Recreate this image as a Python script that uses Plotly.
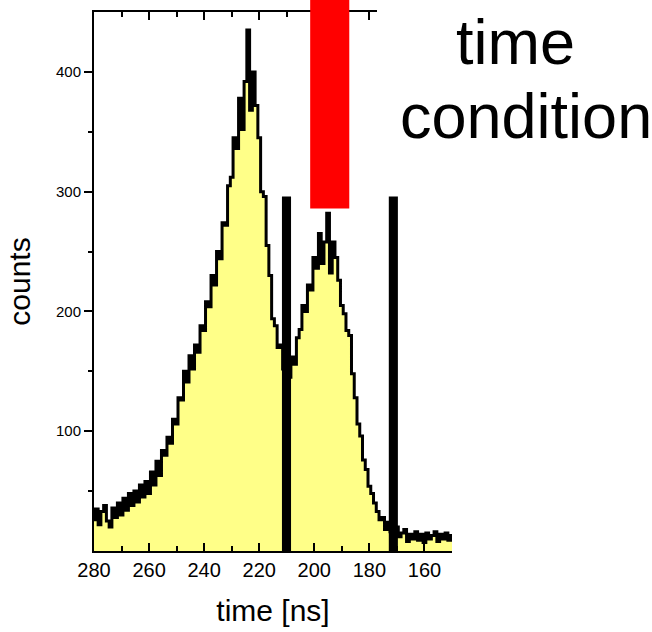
import plotly.graph_objects as go

# Time-of-flight histogram: bin centres [ns] and counts per bin
time_ns = list(range(280, 149, -1))
counts = [
    26, 35, 22, 33, 38, 25, 20, 36, 28, 40,            # 280..271
    30, 44, 34, 48, 38, 50, 41, 55, 45, 58,            # 270..261
    48, 66, 55, 75, 63, 84, 80, 95, 90, 110,           # 260..251
    106, 128, 126, 150, 141, 163, 152, 172, 166, 188,  # 250..241
    184, 208, 204, 230, 222, 250, 244, 274, 272, 305,  # 240..231
    312, 345, 336, 378, 352, 392, 435, 368, 400, 372,  # 230..221
    345, 300, 296, 255, 230, 194, 188, 170, 172, 152,  # 220..211
    158, 145, 162, 156, 178, 185, 205, 200, 222, 218,  # 210..201
    245, 236, 265, 240, 258, 282, 232, 258, 245, 226,  # 200..191
    205, 198, 184, 180, 148, 128, 106, 96, 76, 68,     # 190..181
    54, 48, 40, 33, 26, 28, 18, 24, 16, 19,            # 180..171
    20, 12, 15, 18, 8, 14, 10, 16, 9, 14,              # 170..161
    7, 15, 10, 13, 16, 8, 14, 10, 15, 9,               # 160..151
    13,                                                # 150
]

# Gate markers (ns) and their height (counts)
gate_edges = [210.1, 171.3]
gate_width = 3.3
gate_height = 296

# Selected time window (ns) and lower edge of its marker (counts)
window_ns = [201.5, 187.3]
window_floor = 286

x_range = [280, 150]
y_range = [0, 450]
x_ticks = [280, 260, 240, 220, 200, 180, 160]
y_ticks = [100, 200, 300, 400]
y_minor = [50, 150, 250, 350]

FONT = "Liberation Sans, Arial, sans-serif"

fig = go.Figure()
fig.add_trace(go.Scatter(
    x=time_ns, y=counts,
    mode="lines",
    line=dict(color="black", width=3, shape="hvh"),
    fill="tozeroy",
    fillcolor="#FFFF88",
    showlegend=False,
    hoverinfo="skip",
))

shapes = []
for g in gate_edges:
    shapes.append(dict(
        type="rect", xref="x", yref="y",
        x0=g + gate_width / 2, x1=g - gate_width / 2,
        y0=0, y1=gate_height,
        fillcolor="black", line=dict(width=0), layer="above",
    ))
shapes.append(dict(
    type="rect", xref="x", yref="paper",
    x0=window_ns[0], x1=window_ns[1],
    y0=(window_floor - y_range[0]) / (y_range[1] - y_range[0]), y1=1.1,
    fillcolor="#FF0000", line=dict(width=0), layer="above",
))
# white panel behind the label in the upper-right corner
shapes.append(dict(
    type="rect", xref="paper", yref="paper",
    x0=0.7905, x1=2.0, y0=0.721, y1=1.2,
    fillcolor="white", line=dict(width=0), layer="above",
))

annotations = [
    dict(text="time", xref="paper", yref="paper", x=1.177, y=0.945,
         xanchor="center", yanchor="middle", showarrow=False,
         font=dict(family=FONT, size=63, color="black")),
    dict(text="condition", xref="paper", yref="paper", x=0.849, y=0.807,
         xanchor="left", yanchor="middle", showarrow=False,
         font=dict(family=FONT, size=63, color="black")),
]

fig.update_layout(
    width=652, height=632,
    margin=dict(l=94, r=200, t=10, b=77),
    paper_bgcolor="white", plot_bgcolor="white",
    font=dict(family=FONT, color="black"),
    shapes=shapes,
    annotations=annotations,
    xaxis=dict(
        range=x_range, tickvals=x_ticks,
        ticks="inside", ticklen=8, tickwidth=1.5, tickcolor="black",
        minor=dict(dtick=10, tick0=0, ticks="inside", ticklen=5, tickwidth=1.5, tickcolor="black"),
        showline=True, linecolor="black", linewidth=2, mirror="ticks",
        showgrid=False, zeroline=False,
        tickfont=dict(size=20),
        title=dict(text="time [ns]", font=dict(size=30), standoff=20),
    ),
    yaxis=dict(
        range=y_range, tickvals=y_ticks,
        ticks="outside", ticklen=8, tickwidth=1.5, tickcolor="black",
        minor=dict(tickvals=y_minor, ticks="outside", ticklen=4, tickwidth=1.5, tickcolor="black"),
        showline=True, linecolor="black", linewidth=2,
        showgrid=False, zeroline=False,
        tickfont=dict(size=15),
        title=dict(text="counts", font=dict(size=30), standoff=16),
    ),
    yaxis2=dict(
        range=y_range, overlaying="y", side="right",
        tickvals=y_minor + y_ticks, ticks="inside", ticklen=7, tickwidth=1.5, tickcolor="black",
        showticklabels=False, showline=True, linecolor="black", linewidth=2,
        showgrid=False, zeroline=False,
    ),
)

fig.write_html("out.html")
